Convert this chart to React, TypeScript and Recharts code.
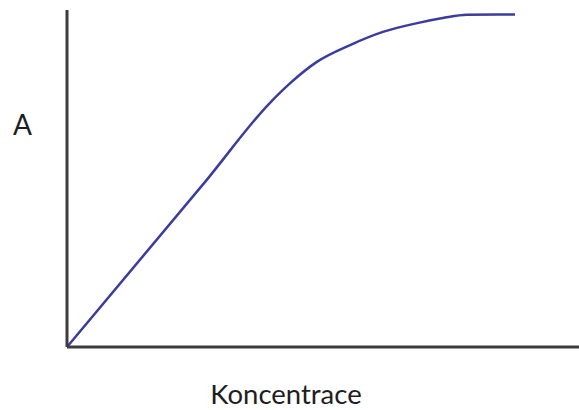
import React from "react";
import { LineChart, Line, XAxis, YAxis } from "recharts";

// Calibration-type curve: absorbance vs concentration (unitless sketch)
const concentration = [0, 27.3, 39.6, 43.6, 48.8, 55.3, 61.7, 68.4, 73.4, 78.1, 87.5];
const absorbance = [0, 49.6, 72.4, 78.3, 84.6, 89.6, 93.5, 96.1, 97.6, 98.6, 98.7];

const xLabel = "Koncentrace";
const yLabel = "A";

const data = concentration.map((c, i) => ({ c, a: absorbance[i] }));

export default function App() {
  const axisColor = "#3c3c3c";
  const font = "Lato, 'Open Sans', sans-serif";

  return (
    <div style={{ position: "absolute", left: 0, top: 0, width: 579, height: 410, background: "#fff" }}>
      <LineChart width={579} height={410} data={data} margin={{ top: 10, right: 0, bottom: 0, left: 0 }}>
        <XAxis
          dataKey="c"
          type="number"
          domain={[0, 100]}
          height={63}
          tick={false}
          tickLine={false}
          axisLine={{ stroke: axisColor, strokeWidth: 3 }}
          label={{
            value: xLabel,
            position: "insideBottom",
            offset: 6,
            dx: -37,
            style: { fontFamily: font, fontSize: 27.5, fill: "#1e1e1e" },
          }}
        />
        <YAxis
          dataKey="a"
          type="number"
          domain={[0, 100]}
          width={67}
          tick={false}
          tickLine={false}
          axisLine={{ stroke: axisColor, strokeWidth: 3 }}
          label={{
            value: yLabel,
            position: "insideLeft",
            offset: 13,
            dy: -53,
            style: { fontFamily: font, fontSize: 28, fill: "#1e1e1e" },
          }}
        />
        <Line
          type="monotone"
          dataKey="a"
          stroke="#3b3c9e"
          strokeWidth={2.5}
          dot={false}
          activeDot={false}
          isAnimationActive={false}
        />
      </LineChart>
    </div>
  );
}
